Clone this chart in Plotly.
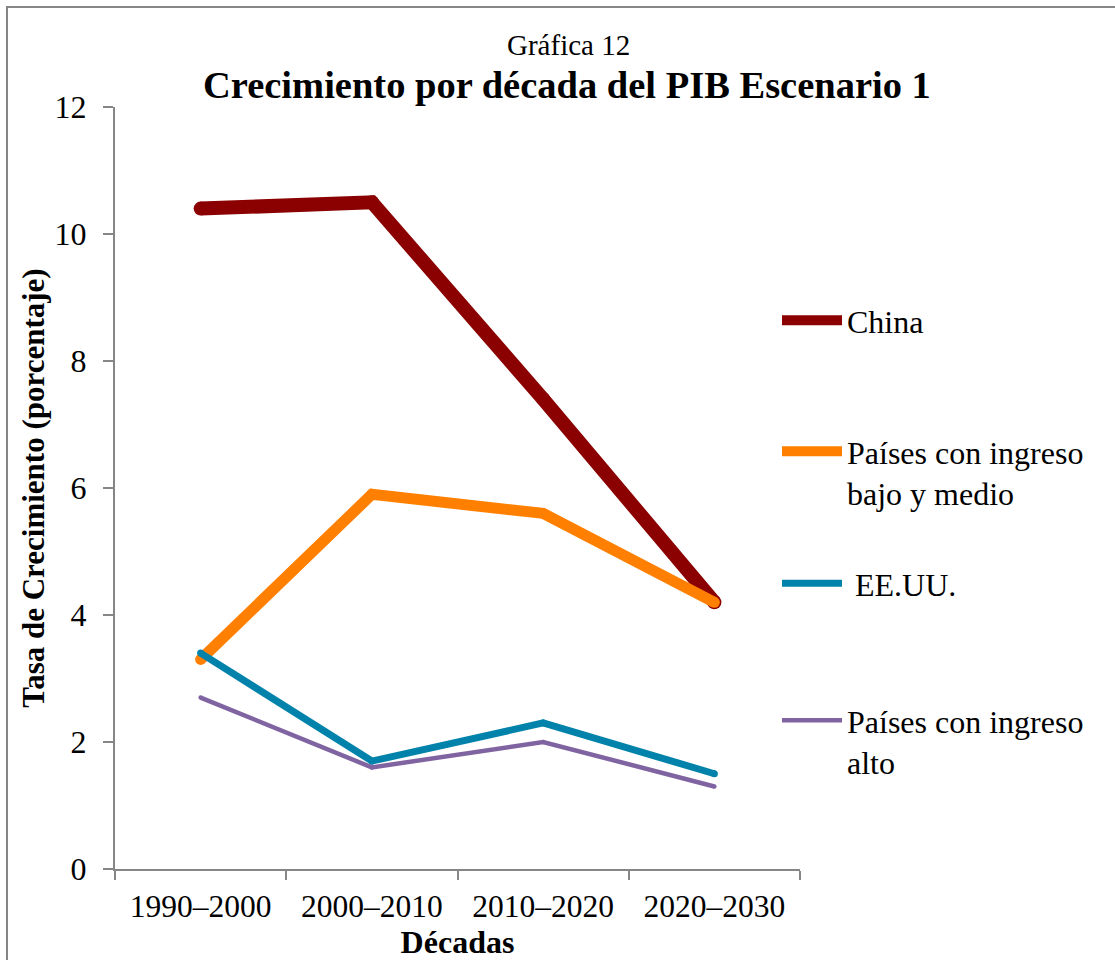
import plotly.graph_objects as go

decades = ["1990–2000", "2000–2010", "2010–2020", "2020–2030"]
china = [10.4, 10.5, 7.4, 4.2]
bajo_medio = [3.3, 5.9, 5.6, 4.2]
eeuu = [3.4, 1.7, 2.3, 1.5]
alto = [2.7, 1.6, 2.0, 1.3]

series_names = ["China", "Países con ingreso<br>bajo y medio", " EE.UU.", "Países con ingreso<br>alto"]
series_values = [china, bajo_medio, eeuu, alto]
series_colors = ["#8B0000", "#FF8000", "#0082AA", "#8064A2"]
series_widths = [14, 11, 7, 4.5]

FONT = "Liberation Serif"
AXIS_GRAY = "#868686"

W, H = 1115, 960
L, R, T, B = 115, W - 800, 107, H - 869
PW, PH = W - L - R, H - T - B

def px_x(x):
    return (x - L) / PW

def px_y(y):
    return (H - B - y) / PH

fig = go.Figure()
legend_names = ["legend", "legend2", "legend3", "legend4"]
legend_tops = [293, 424, 556, 693]
for name, vals, col, w, lg in zip(series_names, series_values, series_colors, series_widths, legend_names):
    fig.add_trace(go.Scatter(
        x=decades, y=vals, mode="lines", name=name,
        line=dict(color=col, width=w),
        legend=lg,
    ))
    # round caps / joins
    fig.add_trace(go.Scatter(
        x=decades, y=vals, mode="markers", showlegend=False, hoverinfo="skip",
        marker=dict(color=col, size=w, line=dict(width=0)),
    ))

legend_common = dict(
    font=dict(family=FONT, size=32, color="black"),
    bgcolor="rgba(0,0,0,0)",
    itemwidth=60,
    valign="top",
    xanchor="left",
    yanchor="top",
)
layout_legends = {}
for lg, top in zip(legend_names, legend_tops):
    layout_legends[lg] = dict(x=px_x(777), y=px_y(top), **legend_common)

fig.update_layout(
    width=W, height=H,
    margin=dict(l=L, r=R, t=T, b=B),
    paper_bgcolor="white", plot_bgcolor="white",
    font=dict(family=FONT, color="black"),
    showlegend=True,
    xaxis=dict(
        type="category",
        showgrid=False, zeroline=False,
        showline=True, linecolor=AXIS_GRAY, linewidth=2,
        ticks="outside", tickson="boundaries", ticklen=9, tickcolor=AXIS_GRAY, tickwidth=2,
        tickfont=dict(family=FONT, size=31.5, color="black"),
        ticklabelstandoff=8,
        title=dict(text="<b>Décadas</b>", font=dict(family=FONT, size=32, color="black"), standoff=0),
        range=[-0.5, 3.5],
    ),
    yaxis=dict(
        range=[0, 12], dtick=2,
        showgrid=False, zeroline=False,
        showline=True, linecolor=AXIS_GRAY, linewidth=2,
        ticks="outside", ticklen=10, tickcolor=AXIS_GRAY, tickwidth=2,
        tickfont=dict(family=FONT, size=32, color="black"),
        ticklabelstandoff=10,
        title=dict(text="<b>Tasa de Crecimiento (porcentaje)</b>", font=dict(family=FONT, size=31, color="black"), standoff=1),
    ),
    annotations=[
        dict(text="Gráfica 12", x=px_x(568), y=px_y(45), xref="paper", yref="paper",
             showarrow=False, font=dict(family=FONT, size=29, color="black"), xanchor="center", yanchor="middle"),
        dict(text="<b>Crecimiento por década del PIB Escenario 1</b>", x=px_x(567), y=px_y(85),
             xref="paper", yref="paper", showarrow=False,
             font=dict(family=FONT, size=38.5, color="black"), xanchor="center", yanchor="middle"),
    ],
    shapes=[
        dict(type="rect", xref="paper", yref="paper",
             x0=px_x(7), x1=px_x(1125), y0=px_y(970), y1=px_y(7),
             line=dict(color=AXIS_GRAY, width=2), fillcolor="rgba(0,0,0,0)", layer="below"),
    ],
    **layout_legends,
)

fig.write_html("out.html")
